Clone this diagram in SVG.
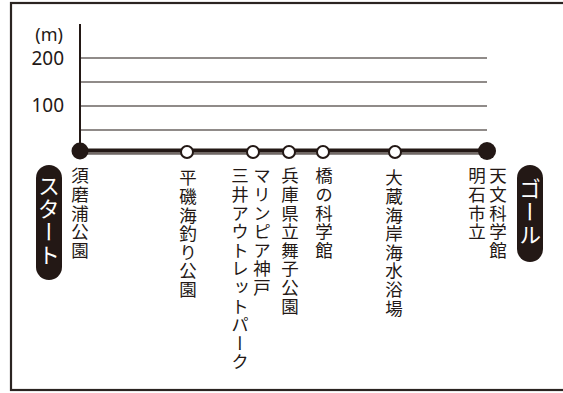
<svg xmlns="http://www.w3.org/2000/svg" width="563" height="393" viewBox="0 0 563 393">
<style>
.frame{fill:none;stroke:#2b2421;stroke-width:2.2}
.grid{stroke:#231815;stroke-width:1.2}
.axis{stroke:#231815;stroke-width:2}
.route{stroke:#231815;stroke-width:6;fill:none}
.routehi{stroke:#bfb8b5;stroke-width:1;fill:none}
.open{fill:#fff;stroke:#231815;stroke-width:2}
.solid{fill:#231815}
.num{font-family:"Noto Sans","Noto Sans CJK JP",sans-serif;fill:#231815;text-anchor:end}
.lbl{font-family:"Noto Sans CJK JP",sans-serif;font-size:17.5px;fill:#231815;writing-mode:vertical-rl;letter-spacing:1.1px}
.badge{fill:#231815}
.btxt{font-family:"Noto Sans CJK JP",sans-serif;font-size:22px;fill:#fff;writing-mode:vertical-rl;letter-spacing:1px}
</style>
<rect class="frame" x="11" y="3" width="600" height="387"/>
<g id="axis">
<line class="grid" x1="80" y1="58" x2="487" y2="58"/>
<line class="grid" x1="80" y1="82" x2="487" y2="82"/>
<line class="grid" x1="80" y1="106" x2="487" y2="106"/>
<line class="grid" x1="80" y1="130" x2="487" y2="130"/>
<line class="axis" x1="80" y1="24" x2="80" y2="151"/>
<text class="num" x="63" y="41" style="font-size:18px">(m)</text>
<text class="num" x="64" y="65" style="font-size:19px">200</text>
<text class="num" x="64" y="112" style="font-size:19px">100</text>
</g>
<g id="connectors">
<line class="route" x1="80" y1="151.5" x2="487" y2="151.5"/>
<line class="routehi" x1="80" y1="153" x2="487" y2="153"/>
</g>
<g id="start">
<circle class="solid" cx="80" cy="151" r="8.5"/>
<text class="lbl" x="80" y="167">須磨浦公園</text>
<rect class="badge" x="36" y="165" width="26" height="115" rx="13"/>
<text class="btxt" x="49" y="175">スタート</text>
</g>
<g id="hiraiso">
<circle class="open" cx="187" cy="152" r="6"/>
<text class="lbl" x="188" y="169">平磯海釣り公園</text>
</g>
<g id="marinepia">
<circle class="open" cx="253" cy="152" r="6"/>
<text class="lbl" x="262" y="167">マリンピア神戸</text>
<text class="lbl" x="240" y="167">三井アウトレットパーク</text>
</g>
<g id="maiko">
<circle class="open" cx="289" cy="152" r="6"/>
<text class="lbl" x="290" y="167">兵庫県立舞子公園</text>
</g>
<g id="hashi">
<circle class="open" cx="323" cy="152" r="6"/>
<text class="lbl" x="324" y="167">橋の科学館</text>
</g>
<g id="okura">
<circle class="open" cx="395" cy="152" r="6"/>
<text class="lbl" x="394" y="169">大蔵海岸海水浴場</text>
</g>
<g id="goal">
<circle class="solid" cx="487" cy="151" r="9"/>
<text class="lbl" x="498" y="167">天文科学館</text>
<text class="lbl" x="477" y="167">明石市立</text>
<rect class="badge" x="517" y="165" width="26" height="97" rx="13"/>
<text class="btxt" x="530" y="178">ゴール</text>
</g>
</svg>
